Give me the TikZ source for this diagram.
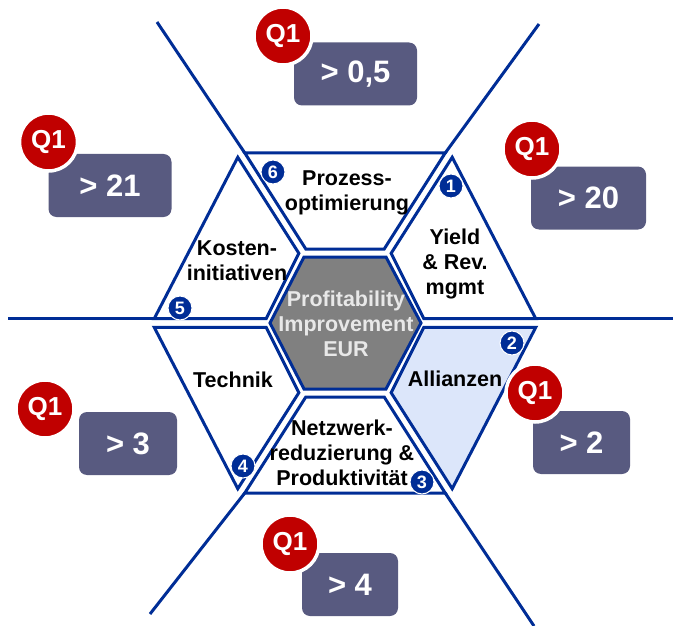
\documentclass[tikz,border=0pt]{standalone}
\usepackage{fontspec}
\setmainfont{Liberation Sans}
\usetikzlibrary{calc}
\definecolor{hexblue}{RGB}{0,45,150}
\definecolor{boxgray}{RGB}{88,90,128}
\definecolor{qred}{RGB}{192,0,0}
\definecolor{lightfill}{RGB}{220,230,250}
\definecolor{hexgray}{RGB}{128,128,128}
\definecolor{ctrtext}{RGB}{232,232,232}
\newcommand\gp{4.8pt}
\newcommand\mkpiece[5]{%
  \coordinate (#1a) at ($(#2)!\gp!(#5)$);
  \coordinate (#1b) at ($(#3)!\gp!(#4)$);
  \coordinate (#1c) at ($(#4)!\gp!(#3)$);
  \coordinate (#1d) at ($(#5)!\gp!(#2)$);}
\begin{document}
\begin{tikzpicture}[x=1pt,y=-1pt,
  piece/.style={draw=hexblue, line width=3pt, fill=white, line join=miter},
  ray/.style={draw=hexblue, line width=3pt},
  lbl/.style={font=\fontsize{21.5}{25}\selectfont\bfseries, align=center, text=black, inner sep=0pt},
  badge/.style={circle, fill=hexblue, draw=white, line width=1pt, text=white,
    font=\fontsize{18}{18}\selectfont\bfseries, inner sep=0pt, minimum size=24pt},
  valbox/.style={rounded corners=8pt, fill=boxgray, text=white,
    font=\fontsize{31}{31}\selectfont\bfseries, inner sep=0pt, minimum height=63pt},
  qone/.style={circle, fill=qred, draw=white, line width=3.5pt, text=white,
    font=\fontsize{26}{26}\selectfont\bfseries, inner sep=0pt, minimum size=58pt}
]
\useasboundingbox (0,0) rectangle (673,626);
% hexagon vertices
\coordinate (O0) at (538,323);
\coordinate (O60) at (450,153);
\coordinate (O120) at (240,153);
\coordinate (O180) at (152,323);
\coordinate (O240) at (240,493);
\coordinate (O300) at (450,493);
\coordinate (I0) at (426,323);
\coordinate (I60) at (389,249);
\coordinate (I120) at (301,249);
\coordinate (I180) at (264,323);
\coordinate (I240) at (301,397);
\coordinate (I300) at (389,397);
\mkpiece{Y}{I0}{O0}{O60}{I60}
\mkpiece{P}{I60}{O60}{O120}{I120}
\mkpiece{K}{I120}{O120}{O180}{I180}
\mkpiece{T}{I180}{O180}{O240}{I240}
\mkpiece{N}{I240}{O240}{O300}{I300}
\mkpiece{A}{I300}{O300}{O0}{I0}
% free ends of the rays
\coordinate (Rend) at (673,0);
\coordinate (Lend) at (8,0);
\coordinate (TLend) at (157,22);
\coordinate (TRend) at (539,24);
\coordinate (BLend) at (150,614);
\coordinate (BRend) at (534,626);
% rays
\draw[ray] (Yb) -- (Yb -| Rend);
\draw[ray] (Kc) -- (Kc -| Lend);
\draw[ray] (Pc) -- (TLend);
\draw[ray] (Pb) -- (TRend);
\draw[ray] (Nb) -- (BLend);
\draw[ray] (Nc) -- (BRend);
% pieces
\draw[piece] (Ya) -- (Yb) -- (Yc) -- (Yd) -- cycle;
\draw[piece] (Pa) -- (Pb) -- (Pc) -- (Pd) -- cycle;
\draw[piece] (Ka) -- (Kb) -- (Kc) -- (Kd) -- cycle;
\draw[piece] (Ta) -- (Tb) -- (Tc) -- (Td) -- cycle;
\draw[piece] (Na) -- (Nb) -- (Nc) -- (Nd) -- cycle;
\draw[piece, fill=lightfill] (Aa) -- (Ab) -- (Ac) -- (Ad) -- cycle;
% centre hexagon
\draw[piece, fill=hexgray] (270,323) -- (304,257) -- (386,257) -- (421,323) -- (386,389) -- (304,389) -- cycle;
% labels
\node[lbl, text=ctrtext] (ctr) at (346,324) {Profitability\\Improvement\\EUR};
\node[lbl] (proz) at (347,193) {Prozess-\\optimierung};
\node[lbl] (kost) at (237,261) {Kosten-\\initiativen};
\node[lbl] (yield) at (455,264) {Yield\\\& Rev.\\mgmt};
\node[lbl] (tech) at (233,380) {Technik};
\node[lbl] (alli) at (455,379) {Allianzen};
\node[lbl] (netz) at (342,453) {Netzwerk-\\reduzierung \&\\Produktivität};
% number badges
\node[badge] (b1) at (451,186) {1};
\node[badge] (b2) at (512,343) {2};
\node[badge] (b3) at (422,482) {3};
\node[badge] (b4) at (243,466) {4};
\node[badge] (b5) at (180,308) {5};
\node[badge] (b6) at (273,172) {6};
% value boxes
\node[valbox, minimum width=123pt] (v1) at (355.5,74) {> 0,5};
\node[valbox, minimum width=123pt] (v2) at (110,185.5) {> 21};
\node[valbox, minimum width=115pt] (v3) at (588.5,198) {> 20};
\node[valbox, minimum width=98pt] (v4) at (128,443.5) {> 3};
\node[valbox, minimum width=97pt] (v5) at (581.5,442.5) {> 2};
\node[valbox, minimum width=96pt] (v6) at (350,584.5) {> 4};
% Q1 discs
\node[qone] (q1) at (283,36) {Q1};
\node[qone] (q2) at (48.5,142) {Q1};
\node[qone] (q3) at (532,149) {Q1};
\node[qone] (q4) at (45,409) {Q1};
\node[qone] (q5) at (535,393) {Q1};
\node[qone] (q6) at (290,544) {Q1};
\end{tikzpicture}
\end{document}
